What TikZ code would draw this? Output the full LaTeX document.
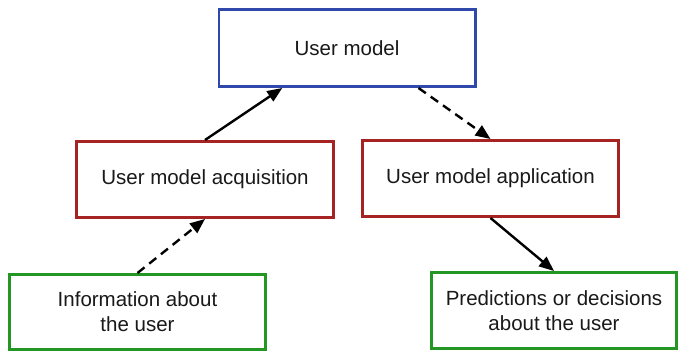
\documentclass[tikz,border=0pt]{standalone}
\usepackage{fontspec}
\setmainfont{Liberation Sans}
\usetikzlibrary{arrows.meta,calc}
\definecolor{umblue}{RGB}{48,72,170}
\definecolor{umred}{RGB}{165,35,35}
\definecolor{umgreen}{RGB}{35,150,35}
\tikzset{
  box/.style={draw, line width=2.8pt, fill=white, inner sep=0pt, align=center,
    font=\fontsize{20.5}{25}\selectfont, text=black!90},
  conn/.style={line width=2.4pt, -{Triangle[length=15pt,width=12pt]}},
  dconn/.style={conn, dash pattern=on 9pt off 6pt}
}
\begin{document}
\begin{tikzpicture}[x=1pt,y=-1pt]
\useasboundingbox (0,0) rectangle (680,353);
\node[box, draw=umblue, minimum width=256.2pt, minimum height=77.2pt] (um) at (347,48) {User model};
\node[box, draw=umred, minimum width=257.2pt, minimum height=76.2pt] (acq) at (205,179.5) {User model acquisition};
\node[box, draw=umred, minimum width=256.2pt, minimum height=76.2pt] (app) at (490.5,178.5) {User model application};
\node[box, draw=umgreen, minimum width=256.2pt, minimum height=75.2pt] (info) at (137.5,312) {Information about\\the user};
\node[box, draw=umgreen, minimum width=245.2pt, minimum height=76.2pt] (pred) at (554,310.5) {Predictions or decisions\\about the user};
\draw[conn] (acq.north) -- ($(um.south west)!0.25!(um.south east)$);
\draw[dconn] ($(um.south west)!0.776!(um.south east)$) -- (app.north);
\draw[dconn] (info.north) -- (acq.south);
\draw[conn] (app.south) -- (pred.north);
\end{tikzpicture}
\end{document}
